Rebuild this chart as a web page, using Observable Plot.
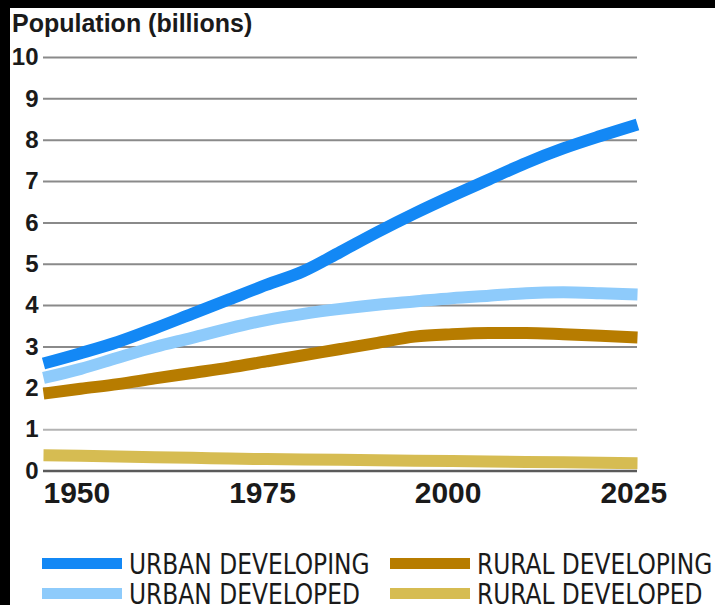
<!DOCTYPE html>
<html>
<head>
<meta charset="utf-8">
<script src="https://cdn.jsdelivr.net/npm/d3@7"></script>
<script src="https://cdn.jsdelivr.net/npm/@observablehq/plot@0.6"></script>
<style>
  html, body { margin: 0; padding: 0; background: #000; width: 715px; height: 605px; overflow: hidden; }
  #panel { position: absolute; left: 10px; top: 8px; width: 705px; height: 597px; background: #fff; overflow: hidden; }
  #title { position: absolute; left: 2px; top: 0px; font: bold 25px "Liberation Sans", Arial, sans-serif; color: #1a1a1a; line-height: 30px; white-space: nowrap; }
  #chart { position: absolute; left: 0; top: 30px; }
  .lg { position: absolute; font: 29px "DejaVu Sans Condensed", "DejaVu Sans", sans-serif; color: #1a1a1a; line-height: 22px; white-space: nowrap; transform: scaleX(0.895); transform-origin: 0 50%; }
  .sw { position: absolute; width: 80px; height: 11px; }
</style>
</head>
<body>
<div id="panel">
  <div id="title">Population (billions)</div>
  <div id="chart"></div>
  <div id="legend"></div>
</div>
<script>
const years = [1950,1955,1960,1965,1970,1975,1980,1985,1990,1995,2000,2005,2010,2015,2020,2025,2030];
const urbanDeveloping = [2.6,2.85,3.12,3.45,3.8,4.15,4.5,4.83,5.3,5.78,6.23,6.65,7.05,7.45,7.8,8.1,8.38];
const urbanDeveloped  = [2.25,2.47,2.74,3.0,3.22,3.45,3.65,3.8,3.92,4.02,4.1,4.18,4.24,4.3,4.32,4.3,4.27];
const ruralDeveloping = [1.87,1.99,2.1,2.24,2.37,2.5,2.65,2.8,2.95,3.1,3.25,3.31,3.34,3.34,3.31,3.27,3.23];
const ruralDeveloped  = [0.38,0.37,0.35,0.33,0.32,0.3,0.29,0.28,0.27,0.26,0.25,0.24,0.23,0.22,0.21,0.2,0.19];

const seriesNames = ["RURAL DEVELOPED","RURAL DEVELOPING","URBAN DEVELOPED","URBAN DEVELOPING"];
const seriesColors = ["#d6bc52","#b77c00","#8ecbfb","#1388f5"];
const seriesValues = [ruralDeveloped, ruralDeveloping, urbanDeveloped, urbanDeveloping];

const yTicks = [0,1,2,3,4,5,6,7,8,9,10];
const xTicks = [1950,1975,2000,2025];

const data = [];
seriesNames.forEach((name, i) => {
  years.forEach((yr, j) => data.push({series: name, year: yr, value: seriesValues[i][j]}));
});

const chart = Plot.plot({
  width: 705,
  height: 482,
  marginTop: 19,
  marginBottom: 49.5,
  marginLeft: 33,
  marginRight: 78,
  x: {domain: [1950, 2030]},
  y: {domain: [0, 10]},
  color: {domain: seriesNames, range: seriesColors},
  style: {background: "transparent", color: "#1a1a1a", overflow: "visible"},
  marks: [
    Plot.ruleY(yTicks, {
      stroke: d => d === 0 ? "#5a5a5a" : (d <= 2 ? "#b3b3b3" : "#8a8a8a"),
      strokeWidth: d => d === 0 ? 2.5 : 2
    }),
    Plot.line(data, {
      x: "year", y: "value", z: "series", stroke: "series",
      strokeWidth: 12, strokeLinecap: "butt", strokeLinejoin: "round", curve: "monotone-x"
    }),
    Plot.axisY({
      ticks: yTicks, tickSize: 0, tickPadding: 5, label: null,
      fontSize: 24, fontWeight: "bold", fontFamily: "Liberation Sans, Arial, sans-serif", fill: "#1a1a1a"
    }),
    Plot.axisX({
      ticks: xTicks, tickSize: 0, tickPadding: 11, label: null, textAnchor: "start",
      tickFormat: d => String(d), ariaLabel: "x-axis tick label",
      fontSize: 30, fontWeight: "bold", fontFamily: "Liberation Sans, Arial, sans-serif", fill: "#1a1a1a"
    })
  ]
});
// condense the x tick labels horizontally (narrow face)
d3.select(chart).selectAll('g[aria-label="x-axis tick label"] text').each(function() {
  const t = this.getAttribute("transform") || "";
  if (this.hasAttribute("x") || this.hasAttribute("y")) {
    const x = +this.getAttribute("x") || 0, y = +this.getAttribute("y") || 0;
    this.removeAttribute("x"); this.removeAttribute("y");
    this.setAttribute("transform", `${t} translate(${x},${y}) scale(0.8,1)`);
  } else {
    this.setAttribute("transform", `${t} scale(0.8,1)`);
  }
});
document.getElementById("chart").appendChild(chart);

// legend
const legendOrder = ["URBAN DEVELOPING","RURAL DEVELOPING","URBAN DEVELOPED","RURAL DEVELOPED"];
const legendPos = [[32,0],[380,0],[32,1],[380,1]];
const lg = document.getElementById("legend");
legendOrder.forEach((name, i) => {
  const [lx, row] = legendPos[i];
  const sw = document.createElement("div");
  sw.className = "sw";
  sw.style.left = lx + "px";
  sw.style.top = (550 + row * 30) + "px";
  sw.style.background = seriesColors[seriesNames.indexOf(name)];
  lg.appendChild(sw);
  const t = document.createElement("div");
  t.className = "lg";
  t.textContent = name;
  t.style.left = (lx + 87) + "px";
  t.style.top = (545 + row * 30) + "px";
  lg.appendChild(t);
});
</script>
</body>
</html>
